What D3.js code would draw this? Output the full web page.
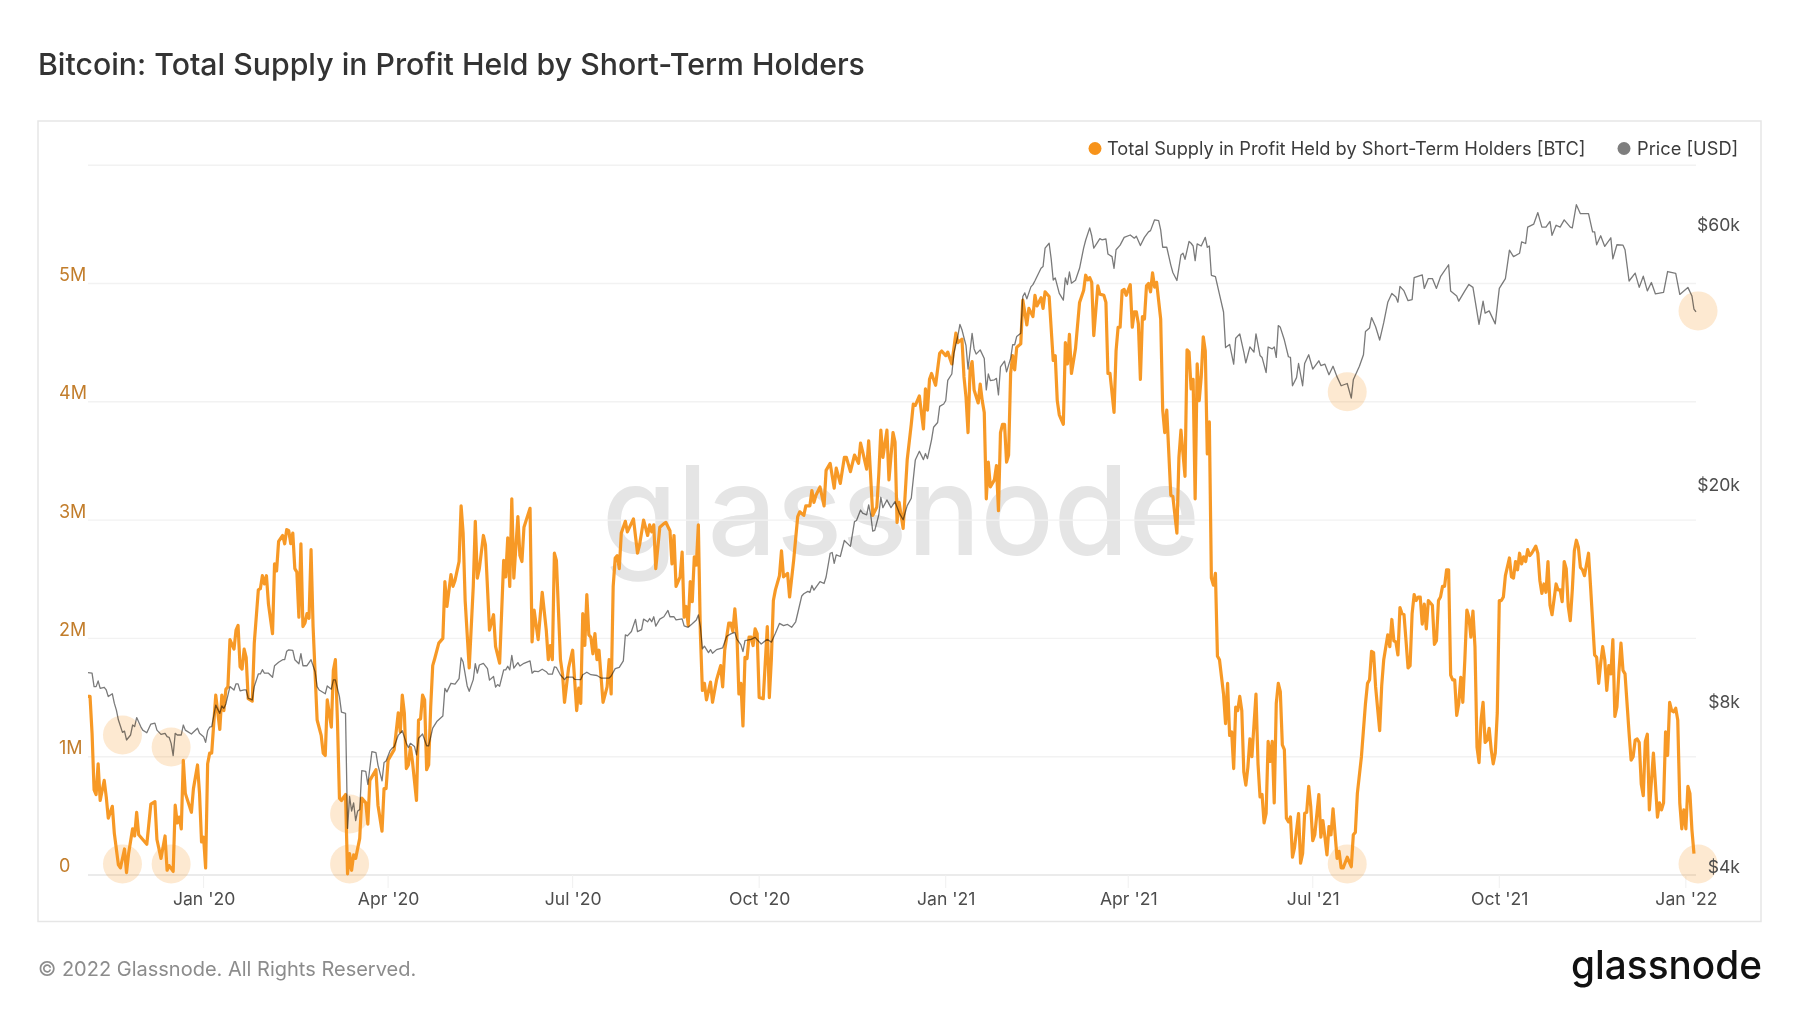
<!DOCTYPE html>
<html>
<head>
<meta charset="utf-8">
<title>Bitcoin: Total Supply in Profit Held by Short-Term Holders</title>
<script src="https://cdn.jsdelivr.net/npm/d3@7"></script>
<style>
  html, body { margin: 0; background: #fff; }
  svg { display: block; font-family: Inter, sans-serif; }
  .axis path, .axis line { display: none; }
</style>
</head>
<body>
<div id="chart"></div>
<script>
const titleText = 'Bitcoin: Total Supply in Profit Held by Short-Term Holders';
const supplyName = 'Total Supply in Profit Held by Short-Term Holders [BTC]';
const priceName = 'Price [USD]';
const copyrightText = '© 2022 Glassnode. All Rights Reserved.';

const startDate = Date.UTC(2019, 10, 5);
const lastDay = 793;

const xTickDates = ['2020-01-01', '2020-04-01', '2020-07-01', '2020-10-01', '2021-01-01', '2021-04-01', '2021-07-01', '2021-10-01', '2022-01-01'];
const xTickLabels = ["Jan '20", "Apr '20", "Jul '20", "Oct '20", "Jan '21", "Apr '21", "Jul '21", "Oct '21", "Jan '22"];
const supplyGrid = [0, 1, 2, 3, 4, 5, 6];
const supplyLabels = ['0', '1M', '2M', '3M', '4M', '5M', ''];
const priceTicks = [4000, 8000, 20000, 60000];
const priceLabels = ['$4k', '$8k', '$20k', '$60k'];

// [days since start, supply in million BTC]
const supplySeries = [
  [0,1.51],[1,1.51],[2,1.20],[3,.72],[4,.68],[5,.94],[6,.63],[8,.80],[9,.66],[10,.48],[12,.58],[13,.35],[15,.085],[16,.06],[18,.22],[19,.02],[20,.18],[22,.39],[23,.33],[24,.53],[25,.34],[27,.30],[29,.26],[31,.60],[33,.62],[34,.30],[36,.14],[38,.33],[39,.04],[40,.08],[42,.03],[43,.59],[44,.44],[45,.49],[46,.39],[47,.97],[48,.69],[51,.53],[52,.73],[54,.93],[55,.69],[56,.28],[57,.32],[58,.06],[59,.94],[60,1.03],[61,1.03],[63,1.52],[65,1.23],[66,1.52],[67,1.39],[68,1.57],[69,1.59],[70,1.99],[72,1.91],[73,2.07],[74,2.11],[75,1.76],[76,1.74],[77,1.91],[78,1.84],[79,1.49],[81,1.47],[82,1.96],[84,2.41],[85,2.42],[86,2.53],[87,2.46],[88,2.53],[89,2.29],[91,2.04],[92,2.63],[93,2.57],[94,2.82],[96,2.87],[97,2.80],[98,2.92],[99,2.91],[100,2.80],[101,2.89],[102,2.59],[103,2.56],[104,2.18],[105,2.80],[106,2.10],[107,2.13],[108,2.21],[109,2.17],[110,2.75],[111,2.10],[113,1.31],[115,1.18],[116,1.03],[117,1.01],[118,1.48],[120,1.25],[121,1.73],[122,1.82],[123,1.31],[124,.65],[125,.63],[127,.68],
  [128,.01],[129,.18],[130,.04],[131,.17],[132,.14],[134,.31],[135,.65],[137,.61],[138,.43],[139,.80],[142,.89],[143,.59],[145,.37],[146,.73],[147,.73],[148,.97],[150,1.03],[151,1.06],[153,1.37],[154,1.21],[155,1.52],[156,1.37],[157,.90],[158,.93],[159,1.08],[160,.96],[162,.63],[163,1.31],[164,1.32],[165,1.52],[166,1.48],[167,.89],[168,.93],[169,1.42],[170,1.77],[171,1.83],[173,1.96],[175,2.00],[176,2.48],[177,2.27],[179,2.54],[180,2.44],[181,2.49],[183,2.65],[184,3.12],[185,2.89],[186,2.32],[188,1.75],[190,2.44],[191,2.99],[192,2.51],[193,2.59],[195,2.87],[196,2.79],[198,2.07],[200,2.20],[201,1.93],[203,1.79],[205,2.66],[206,2.52],[207,2.85],[208,2.44],[209,3.18],[210,2.51],[212,3.03],[213,2.70],[214,2.65],[215,2.94],[218,3.10],[219,1.97],[220,2.24],[222,1.99],[224,2.39],[226,2.07],[227,1.82],[228,1.94],[229,1.82],[230,2.72],[231,2.66],[233,1.82],[234,1.70],[235,1.46],[237,1.75],[239,1.90],[241,1.39],[242,1.58],[243,1.45],[244,2.21],[245,1.94],[246,2.37],[247,2.03],[248,2.01],[249,1.87],[250,2.04],[251,1.82],[252,1.90],[254,1.46],[256,1.59],[257,1.82],[258,1.53],[259,2.44],[260,2.68],[261,2.70],[262,2.59],[263,2.89],[265,2.99],[266,2.90],[269,3.01],[271,2.72],
  [272,2.79],[274,3.00],[276,2.87],[277,2.96],[278,2.90],[279,2.96],[280,2.59],[282,2.94],[284,2.97],[285,2.98],[287,2.91],[288,2.63],[289,2.87],[290,2.44],[292,2.52],[293,2.73],[294,2.18],[295,2.27],[296,2.11],[297,2.48],[298,2.31],[299,2.69],[300,2.62],[301,2.96],[302,2.04],[303,1.56],[304,1.62],[305,1.48],[307,1.63],[308,1.46],[310,1.65],[312,1.77],[313,1.59],[314,1.90],[316,2.13],[317,2.13],[318,2.06],[319,2.25],[320,2.04],[321,1.53],[322,1.62],[323,1.26],[324,1.84],[325,1.83],[326,2.01],[327,2.01],[328,1.94],[329,2.08],[330,2.04],[331,1.50],[333,1.49],[335,2.10],[336,1.50],[337,1.82],[338,2.32],[339,2.41],[341,2.53],[342,2.74],[343,2.52],[345,2.55],[346,2.35],[348,2.66],[350,3.03],[351,3.07],[353,3.04],[354,3.12],[356,3.12],[357,3.25],[358,3.15],[359,3.21],[361,3.28],[363,3.12],[364,3.42],[366,3.48],[368,3.27],[369,3.44],[371,3.31],[373,3.53],[374,3.53],[376,3.41],[378,3.55],[380,3.48],[381,3.65],[382,3.58],[384,3.43],[385,3.67],[386,3.36],[387,3.04],[389,3.11],[390,3.39],[391,3.76],[392,3.53],[394,3.76],[395,3.34],[397,3.74],[398,3.66],[399,2.98],[400,3.15],[402,2.93],[404,3.51],[406,3.81],[407,3.98],[408,3.97],
  [410,4.05],[412,3.77],[413,4.11],[414,3.93],[415,4.19],[416,4.24],[418,4.14],[420,4.41],[421,4.43],[423,4.39],[424,4.42],[426,4.32],[428,4.58],[429,4.50],[431,4.53],[432,4.21],[433,4.04],[434,3.74],[435,4.27],[436,4.34],[437,4.10],[439,3.99],[440,4.15],[441,4.01],[442,3.91],[443,3.18],[444,3.49],[445,3.28],[447,3.34],[448,3.46],[449,3.08],[450,3.74],[451,3.81],[452,3.81],[453,3.49],[454,3.55],[455,4.24],[456,4.39],[457,4.27],[458,4.46],[460,4.49],[461,4.86],[463,4.65],[464,4.79],[466,4.72],[467,4.90],[468,4.81],[470,4.88],[471,4.79],[472,4.93],[474,4.89],[476,4.35],[477,4.39],[478,4.01],[479,3.89],[481,3.81],[482,4.50],[483,4.32],[484,4.57],[485,4.24],[487,4.45],[489,4.84],[491,4.94],[492,5.07],[493,5.03],[494,5.05],[495,5.01],[496,4.56],[498,4.98],[499,4.91],[501,4.90],[502,4.84],[503,4.24],[504,4.24],[506,3.91],[507,4.43],[508,4.63],[509,4.63],[510,4.94],[511,4.95],[512,4.90],[514,4.99],[515,4.63],[516,4.76],[517,4.76],[518,4.66],[519,4.19],[520,4.72],[521,4.70],[522,4.98],[523,5.00],[524,4.93],[525,5.09],[526,4.97],[527,5.01],[529,4.70],[530,3.93],[531,3.74],[532,3.93],[534,3.21],[535,3.20],[537,2.89],[538,3.53],[539,3.76],[541,3.37],[542,4.44],[543,4.42],[544,4.11],[545,4.19],[546,3.18],[547,4.32],[548,4.01],[549,4.21],[550,4.55],[551,4.43],[552,3.56],[553,3.83],
  [554,2.51],[555,2.45],[556,2.55],[557,1.85],[558,1.82],[560,1.53],[561,1.28],[562,1.62],[563,1.18],[564,1.21],[565,.90],[566,1.42],[567,1.39],[568,1.51],[569,1.39],[570,.87],[571,.76],[572,.91],[573,1.15],[574,1.00],[576,1.53],[577,.94],[578,.66],[579,.68],[580,.44],[581,.52],[582,1.13],[583,.96],[584,1.13],[585,.61],[586,1.45],[587,1.62],[588,1.55],[589,1.10],[590,1.06],[591,.48],[592,.45],[593,.49],[594,.15],[595,.23],[597,.52],[598,.10],[599,.18],[600,.52],[601,.53],[602,.75],[603,.58],[604,.29],[605,.34],[607,.68],[608,.32],[609,.46],[610,.32],[611,.17],[612,.41],[613,.34],[614,.56],[616,.14],[617,.20],[618,.06],[619,.06],[621,.15],[623,.07],[624,.34],[625,.36],[626,.69],[628,1.00],[630,1.45],[631,1.62],[632,1.65],[633,1.89],[634,1.88],[635,1.59],[637,1.22],[638,1.60],[639,1.82],[641,2.03],[642,1.93],[643,2.16],[644,1.98],[645,1.97],[646,1.86],[647,2.26],[648,2.21],[649,2.20],[650,1.98],[651,1.75],[652,1.77],[653,2.21],[654,2.37],[655,2.32],[656,2.35],[657,2.35],[658,2.12],[659,2.29],[660,2.08],[661,2.32],[663,2.28],[664,1.95],[665,1.98],[666,2.32],[667,2.35],[668,2.44],[669,2.44],[670,2.58],[671,2.58],[672,1.69],[673,1.65],[674,1.65],[675,1.35],
  [676,1.45],[677,1.67],[678,1.46],[679,1.82],[680,2.24],[681,2.18],[682,2.01],[683,2.23],[684,1.93],[685,1.08],[686,.95],[687,1.31],[688,1.46],[689,1.12],[690,1.14],[691,1.24],[692,1.06],[693,.94],[694,1.03],[695,1.37],[696,2.32],[697,2.32],[698,2.35],[699,2.53],[701,2.68],[702,2.52],[703,2.51],[704,2.65],[705,2.58],[706,2.72],[707,2.63],[708,2.69],[709,2.65],[710,2.75],[711,2.70],[712,2.72],[714,2.78],[715,2.72],[716,2.49],[717,2.38],[718,2.46],[719,2.39],[720,2.65],[721,2.28],[722,2.20],[724,2.46],[725,2.41],[726,2.41],[727,2.31],[728,2.65],[729,2.59],[730,2.27],[731,2.15],[732,2.41],[733,2.74],[734,2.83],[735,2.77],[736,2.60],[737,2.58],[738,2.53],[740,2.72],[741,2.44],[743,1.86],[744,1.84],[745,1.62],[746,1.79],[747,1.93],[748,1.82],[749,1.56],[750,1.77],[751,1.70],[752,1.99],[753,1.34],[754,1.42],[755,1.72],[756,1.96],[757,1.73],[758,1.70],[760,1.20],[761,.97],[762,1.00],[763,1.14],[764,1.15],[765,1.12],[766,.77],[767,.67],[768,1.13],[769,1.19],[770,.55],[772,1.03],[773,.77],[774,.49],[775,.61],[776,.55],[777,.61],[778,1.21],[779,1.01],[780,1.46],[781,1.39],[782,1.38],[783,1.41],[784,1.31],[785,.61],[786,.39],[787,.55],[788,.39],[789,.75],[790,.69],[791,.38],[792,.18]
];

// [days since start, price in USD]
const priceSeries = [
  [0,9390],[2,9370],[3,8855],[4,8855],[5,9070],[6,8790],[8,8830],[9,8730],[10,8490],[12,8590],[13,8250],[14,8020],[15,7690],[17,7300],[18,7340],[19,7070],[21,7220],[22,7530],[23,7480],[24,7770],[26,7480],[27,7370],[29,7290],[31,7560],[33,7590],[34,7370],[36,7240],[38,7270],[39,7170],[40,7150],[41,6970],[42,6620],[43,7270],[44,7220],[46,7220],[47,7530],[48,7370],[51,7250],[54,7430],[55,7270],[57,7170],[58,7000],[59,7350],[60,7460],[61,7480],[63,8190],[65,7910],[66,8160],[67,8080],[68,8230],[70,8855],[72,8730],[73,8960],[74,8960],[75,8700],[77,8730],[78,8730],[79,8430],[81,8370],[82,8855],[84,9340],[85,9340],[86,9510],[87,9370],[89,9370],[91,9210],[92,9670],[94,9810],[96,9920],[97,9920],[98,10280],[99,10340],[101,10320],[102,9920],[104,9750],[105,10180],[106,9670],[108,9670],[110,9920],[112,9430],[113,8855],[114,8730],[117,8590],[118,8880],[120,8760],[121,9110],[122,9110],[124,8490],[125,7950],[127,7910],
  [128,4870],[129,5570],[130,5240],[131,5420],[132,5030],[133,5240],[134,5270],[135,6210],[137,6190],[138,5860],[140,6730],[142,6700],[143,6360],[145,5950],[146,6430],[147,6470],[149,6760],[150,6830],[151,6870],[153,7210],[155,7350],[157,6970],[158,6850],[159,6970],[161,6880],[162,6640],[163,7120],[165,7250],[167,6900],[168,6900],[170,7430],[172,7640],[175,7820],[176,8790],[177,8660],[179,8980],[181,8950],[183,9160],[184,10000],[185,9820],[187,8880],[188,8680],[190,9120],[191,9760],[192,9370],[193,9700],[195,9770],[197,9550],[198,9100],[200,9240],[201,8840],[202,8930],[203,8870],[205,9500],[206,9500],[207,9650],[208,9500],[209,10100],[210,9570],[212,9800],[213,9660],[215,9770],[218,9870],[219,9370],[220,9450],[222,9430],[224,9530],[226,9430],[227,9330],[229,9330],[230,9620],[231,9600],[233,9300],[235,9120],[236,9220],[239,9220],[240,9130],[243,9120],[244,9310],[246,9410],[248,9310],[251,9280],[253,9180],[257,9180],[258,9260],[260,9550],[262,9600],[264,9870],[265,11010],[266,10970],[268,11170],[270,11760],[271,11170],
  [273,11260],[274,11770],[276,11640],[277,11800],[278,11640],[279,11890],[280,11430],[282,11770],[284,11890],[286,12210],[287,11890],[289,11890],[290,11730],[293,11780],[294,11440],[296,11370],[298,11540],[300,11730],[301,11980],[302,11400],[303,10380],[304,10500],[306,10220],[307,10350],[308,10190],[310,10350],[313,10430],[315,10950],[317,11060],[319,11130],[320,10820],[322,10560],[323,10260],[324,10750],[327,10810],[329,10900],[332,10600],[335,10810],[337,10680],[339,11090],[341,11560],[343,11450],[345,11510],[347,11370],[349,11640],[350,12065],[352,12980],[353,13100],[355,13230],[356,13170],[357,13570],[358,13300],[361,13790],[363,13680],[364,14060],[366,15540],[367,15590],[368,14890],[369,15440],[371,15330],[373,16400],[376,16000],[378,17760],[379,17840],[381,18650],[382,18400],[384,18280],[385,19050],[386,18280],[387,17060],[388,17110],[390,18280],[391,19680],[392,18840],[394,19460],[396,18840],[398,19320],[400,18450],[402,17900],[404,19000],[406,19600],[408,23040],
  [410,23900],[412,23070],[413,23670],[414,23160],[416,25080],[417,26440],[419,26980],[420,28870],[422,29170],[423,29600],[424,32220],[426,33100],[427,36100],[429,38900],[430,40800],[431,39900],[433,37300],[434,33800],[436,39300],[437,36800],[438,36000],[440,36650],[442,35350],[443,30950],[444,33100],[445,32200],[447,32300],[448,32500],[449,30300],[450,34100],[452,34950],[453,33400],[455,35350],[456,37450],[457,37450],[458,38780],[460,39300],[461,45900],[462,46600],[463,45450],[465,47800],[466,48250],[467,49050],[470,51720],[471,52100],[472,56300],[474,57460],[475,53800],[476,49200],[477,49650],[479,46500],[481,45200],[482,49650],[483,48250],[484,50900],[485,48550],[487,49150],[489,51700],[491,56300],[492,58200],[494,61300],[495,59300],[496,56300],[498,57800],[499,58600],[500,58300],[502,58500],[503,54900],[505,54300],[506,51700],[507,55900],[509,57000],[511,58900],[514,59500],[516,58700],[517,59200],[519,56900],[521,58900],[523,60300],[524,60600],[526,63440],[528,63200],[529,60800],[530,56500],[532,56500],[534,52400],[535,50800],[537,49100],[539,54700],[540,55100],[541,53700],[543,57900],[544,57460],[545,56800],[546,53400],[547,57300],[549,56800],[551,58900],[552,56500],[553,56800],
  [554,50200],[556,49900],[558,46300],[560,43000],[561,37000],[563,37500],[565,34500],[566,38500],[568,39200],[570,36300],[571,34700],[573,37100],[575,36300],[576,39200],[578,35800],[579,35500],[581,33300],[582,37100],[584,36800],[585,37100],[586,35500],[587,40600],[588,40300],[590,38200],[592,35600],[593,35500],[594,31500],[596,32600],[597,34600],[599,31500],[600,34600],[602,35900],[604,33800],[607,35000],[608,34300],[610,34500],[612,33000],[614,34200],[616,32700],[618,31500],[621,31800],[623,29900],[624,32300],[627,34200],[629,35900],[630,39600],[632,40200],[633,42000],[635,40400],[637,38200],[639,41100],[641,44800],[643,46500],[645,45800],[646,44800],[647,47900],[649,47000],[651,45100],[653,45300],[654,49700],[658,50300],[659,47500],[661,49500],[663,49500],[665,47500],[667,49900],[671,52480],[672,47000],[675,46000],[676,45000],[679,47000],[681,48300],[683,47700],[686,40800],[688,45000],[689,42800],[691,43200],[694,40900],[696,47500],[699,49500],[701,55800],[703,54300],[706,55100],[707,57800],[709,57400],[710,61500],[713,62300],[715,65400],[717,61500],[719,61500],[721,63000],[722,59400],[724,62000],[726,61500],[728,63400],[731,61500],[732,61300],[734,67600],[736,65100],[740,65100],[742,60300],[743,60300],[744,57100],[746,59300],[748,56700],[751,58800],[752,53800],[754,57100],[757,57000],[758,55900],[760,49000],[763,50660],[765,47700],[767,50000],[769,47000],[771,48700],[773,46400],[777,46700],[779,51000],[783,50600],[785,46300],[789,47700],[791,46000],[792,43500],[793,43000]
];

// highlighted spots: day, price, supply
const highlightDays = [17, 41, 129, 621, 794];
const highlightPrices = [7220, 6864, 5174, 30700, 43200];
const highlightSupply = [.093, .093, .093, .093, .093];

const width = 1800;
const height = 1013;
const dayMs = 86400000;
const dateOf = (d) => new Date(startDate + d * dayMs);

const svg = d3.select('#chart').append('svg').attr('width', width).attr('height', height);

const x = d3.scaleUtc().domain([dateOf(0), dateOf(lastDay)]).range([88, 1696]);
const ySupply = d3.scaleLinear().domain([0, 5]).range([875, 283.5]);
const yPrice = d3.scaleLog().domain([4000, 60000]).range([875, 233]);

svg.append('text').attr('x', 38).attr('y', 75)
  .attr('font-size', 30.25).attr('font-weight', 500).attr('fill', '#333').text(titleText);

svg.append('rect').attr('x', 38).attr('y', 121).attr('width', 1723).attr('height', 800.5)
  .attr('fill', '#fff').attr('stroke', '#e6e6e6').attr('stroke-width', 1.5);

// watermark
svg.append('text').attr('x', 602).attr('y', 555)
  .attr('font-size', 124).attr('font-weight', 500).attr('textLength', 598).attr('lengthAdjust', 'spacingAndGlyphs')
  .attr('fill', '#e5e5e5').text('glassnode');

// gridlines
svg.append('g').selectAll('line').data(supplyGrid).enter().append('line')
  .attr('x1', x.range()[0]).attr('x2', x.range()[1])
  .attr('y1', (d) => ySupply(d)).attr('y2', (d) => ySupply(d))
  .attr('stroke', (d) => (d === 0 ? '#e4e4e4' : '#f2f2f2')).attr('stroke-width', 1.4);

svg.append('g').selectAll('line').data(xTickDates).enter().append('line')
  .attr('x1', (d) => x(new Date(d))).attr('x2', (d) => x(new Date(d)))
  .attr('y1', 875).attr('y2', 888)
  .attr('stroke', '#f0f0f0').attr('stroke-width', 1);

// highlights
const spots = svg.append('g').attr('fill', '#f7931a').attr('fill-opacity', 0.2);
highlightDays.forEach((day, i) => {
  spots.append('circle').attr('cx', x(dateOf(day))).attr('cy', yPrice(highlightPrices[i])).attr('r', 19.5);
  spots.append('circle').attr('cx', x(dateOf(day))).attr('cy', ySupply(highlightSupply[i])).attr('r', 19.5);
});

// series
const supplyLine = d3.line().x((d) => x(dateOf(d[0]))).y((d) => ySupply(d[1]));
const priceLine = d3.line().x((d) => x(dateOf(d[0]))).y((d) => yPrice(d[1]));

svg.append('path').datum(supplySeries).attr('d', supplyLine)
  .attr('fill', 'none').attr('stroke', '#f7931a').attr('stroke-opacity', 0.95).attr('stroke-width', 3.2)
  .attr('stroke-linejoin', 'round');

svg.append('path').datum(priceSeries).attr('d', priceLine)
  .attr('fill', 'none').attr('stroke', '#7a7a7a').attr('stroke-width', 1.3)
  .attr('stroke-linejoin', 'round').style('mix-blend-mode', 'multiply');

// axes
const xAxis = d3.axisBottom(x)
  .tickValues(xTickDates.map((d) => new Date(d)))
  .tickFormat((d, i) => xTickLabels[i]);
svg.append('g').attr('class', 'axis').attr('transform', 'translate(0,875)').call(xAxis)
  .call((g) => g.selectAll('text').attr('y', 24).attr('dy', '0.36em')
    .attr('font-family', 'Inter').attr('font-size', 17.6).attr('fill', '#4d4d4d'));

const leftAxis = d3.axisLeft(ySupply).tickValues(supplyGrid).tickFormat((d, i) => supplyLabels[i]);
svg.append('g').attr('class', 'axis').attr('transform', 'translate(59,0)').call(leftAxis)
  .call((g) => g.selectAll('text').attr('x', 0).attr('dy', '-0.17em').attr('text-anchor', 'start')
    .attr('font-family', 'Inter').attr('font-size', 18).attr('fill', '#c27d2b'));

const rightAxis = d3.axisRight(yPrice).tickValues(priceTicks).tickFormat((d, i) => priceLabels[i]);
svg.append('g').attr('class', 'axis').attr('transform', 'translate(1740,0)').call(rightAxis)
  .call((g) => g.selectAll('text').attr('x', 0).attr('dy', '-0.17em').attr('text-anchor', 'end')
    .attr('font-family', 'Inter').attr('font-size', 17.6).attr('fill', '#4d4d4d'));

// legend
const legend = svg.append('g').attr('font-size', 18.25).attr('fill', '#3c3c3c');
legend.append('circle').attr('cx', 1095).attr('cy', 148.5).attr('r', 6.5).attr('fill', '#f7931a');
legend.append('text').attr('x', 1107).attr('y', 155).text(supplyName);
legend.append('circle').attr('cx', 1624).attr('cy', 148.5).attr('r', 6.5).attr('fill', '#7e7e7e');
legend.append('text').attr('x', 1637).attr('y', 155).text(priceName);

// footer
svg.append('text').attr('x', 38).attr('y', 975.5)
  .attr('font-size', 20).attr('fill', '#8c8c8c').text(copyrightText);
svg.append('text').attr('x', 1571).attr('y', 979)
  .attr('font-size', 40).attr('font-weight', 500).attr('textLength', 191).attr('lengthAdjust', 'spacingAndGlyphs')
  .attr('fill', '#111').text('glassnode');
</script>
</body>
</html>
